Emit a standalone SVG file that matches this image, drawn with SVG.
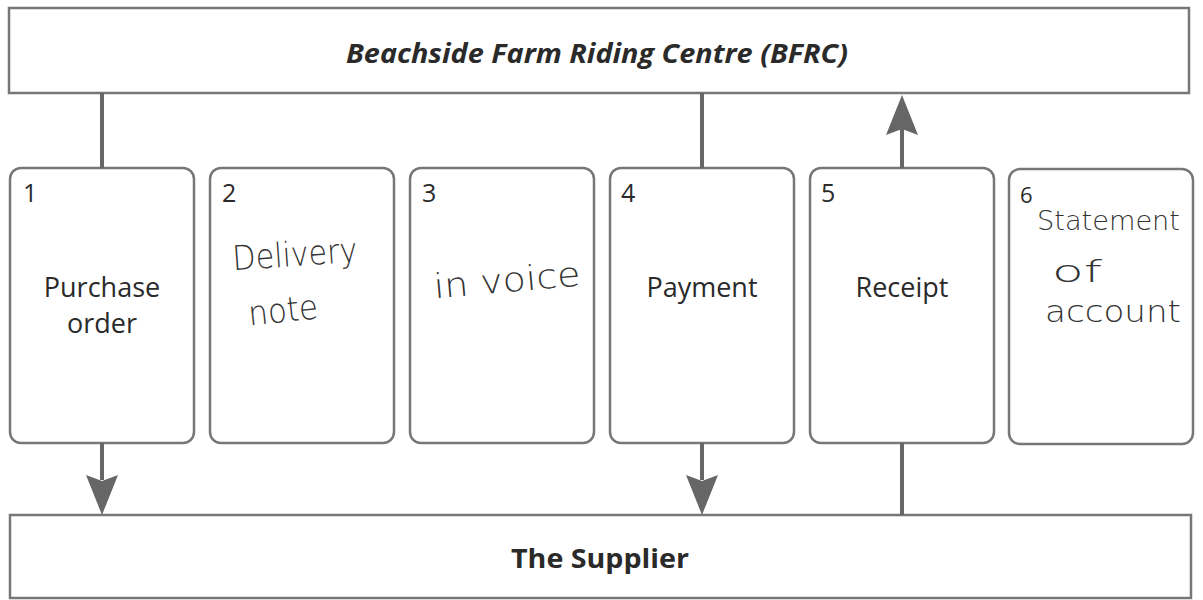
<svg xmlns="http://www.w3.org/2000/svg" width="1203" height="600" viewBox="0 0 1203 600">
<style>
.bar{fill:#fff;stroke:#777;stroke-width:2.5}
.card{fill:#fff;stroke:#777;stroke-width:2.5}
.num{font-family:"Open Sans","Liberation Sans",sans-serif;font-size:25px;fill:#2a2a2a}
.lbl{font-family:"Open Sans","Liberation Sans",sans-serif;font-size:27px;fill:#2a2a2a;text-anchor:middle}
.title{font-family:"Open Sans","Liberation Sans",sans-serif;font-size:26px;font-weight:bold;fill:#2a2a2a;text-anchor:middle}
.hand{font-family:"DejaVu Sans","Liberation Sans",sans-serif;font-size:34px;fill:#333;font-weight:300}
.conn{stroke:#666;stroke-width:4;fill:none}
.head{fill:#666}
</style>
<rect width="1203" height="600" fill="#fff"/>
<g id="bfrc">
<rect class="bar" x="9" y="8" width="1180" height="85"/>
<text class="title" x="597" y="63" font-style="italic" textLength="502" lengthAdjust="spacingAndGlyphs">Beachside Farm Riding Centre (BFRC)</text>
</g>
<g id="supplier">
<rect class="bar" x="10" y="515" width="1181" height="83"/>
<text class="title" x="600" y="568" style="font-size:27px" textLength="178" lengthAdjust="spacingAndGlyphs">The Supplier</text>
</g>
<g id="card1">
<rect class="card" x="10" y="168" width="184" height="275" rx="11"/>
<text class="num" x="23" y="202">1</text>
<text class="lbl" x="102" y="297">Purchase</text>
<text class="lbl" x="102" y="333">order</text>
</g>
<g id="card2">
<rect class="card" x="210" y="168" width="184" height="275" rx="11"/>
<text class="num" x="222" y="202">2</text>
<text class="hand" x="232" y="266" textLength="125" lengthAdjust="spacingAndGlyphs" transform="rotate(-4 294 250)">Delivery</text>
<text class="hand" x="248" y="322" textLength="70" lengthAdjust="spacingAndGlyphs" transform="rotate(-6 283 310)">note</text>
</g>
<g id="card3">
<rect class="card" x="410" y="168" width="184" height="275" rx="11"/>
<text class="num" x="422" y="202">3</text>
<text class="hand" x="433" y="292" textLength="147" lengthAdjust="spacingAndGlyphs" transform="rotate(-5 506 275)">in voice</text>
</g>
<g id="card4">
<rect class="card" x="610" y="168" width="184" height="275" rx="11"/>
<text class="num" x="621" y="202">4</text>
<text class="lbl" x="702" y="297">Payment</text>
</g>
<g id="card5">
<rect class="card" x="810" y="168" width="184" height="275" rx="11"/>
<text class="num" x="821" y="202">5</text>
<text class="lbl" x="902" y="297">Receipt</text>
</g>
<g id="card6">
<rect class="card" x="1009" y="169" width="184" height="275" rx="11"/>
<text class="num" x="1020" y="203" style="font-size:22px">6</text>
<text class="hand" x="1037" y="230" style="font-size:27px" textLength="143" lengthAdjust="spacingAndGlyphs">Statement</text>
<text class="hand" x="1052" y="282" style="font-size:30px" textLength="50" lengthAdjust="spacingAndGlyphs">of</text>
<text class="hand" x="1045" y="322" style="font-size:30px" textLength="136" lengthAdjust="spacingAndGlyphs">account</text>
</g>
<g id="connectors">
<line class="conn" x1="102" y1="93" x2="102" y2="168"/>
<line class="conn" x1="102" y1="443" x2="102" y2="480"/>
<path class="head" d="M86,475 L102,481 L118,475 L102,515 Z"/>
<line class="conn" x1="702" y1="93" x2="702" y2="168"/>
<line class="conn" x1="702" y1="443" x2="702" y2="480"/>
<path class="head" d="M686,475 L702,481 L718,475 L702,515 Z"/>
<line class="conn" x1="902" y1="515" x2="902" y2="443"/>
<line class="conn" x1="902" y1="168" x2="902" y2="128"/>
<path class="head" d="M886,135 L902,129 L918,135 L902,95 Z"/>
</g>
</svg>
